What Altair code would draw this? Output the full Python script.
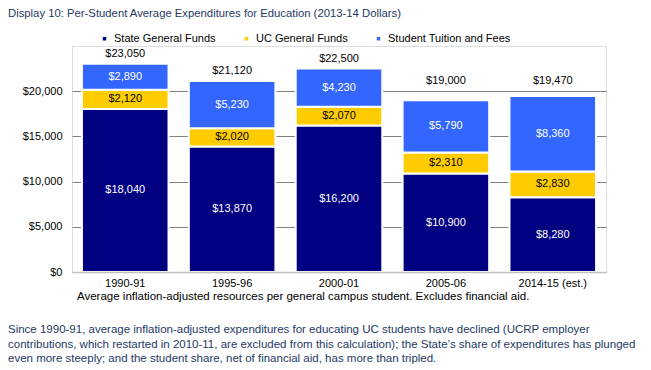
import altair as alt
import pandas as pd

# ---- data ----
categories = ["1990-91", "1995-96", "2000-01", "2005-06", "2014-15 (est.)"]
series_names = ["State General Funds", "UC General Funds", "Student Tuition and Fees"]
state_funds = [18040, 13870, 16200, 10900, 8280]
uc_funds = [2120, 2020, 2070, 2310, 2830]
tuition_fees = [2890, 5230, 4230, 5790, 8360]
totals = [23050, 21120, 22500, 19000, 19470]
series_colors = ["#000080", "#FFCC00", "#3366FF"]
y_tick_values = [0, 5000, 10000, 15000, 20000]

title_text = "Display 10: Per-Student Average Expenditures for Education (2013-14 Dollars)"
footnote_text = "Average inflation-adjusted resources per general campus student.  Excludes financial aid."
paragraph_lines = [
    "Since 1990-91, average inflation-adjusted expenditures for educating UC students have declined (UCRP employer",
    "contributions, which restarted in 2010-11, are excluded from this calculation); the State\u2019s share of expenditures has plunged",
    "even more steeply; and the student share, net of financial aid, has more than tripled.",
]

FONT = "Liberation Sans"
TEXT_BLUE = "#1F3864"

rows = []
for i, cat in enumerate(categories):
    for k, (name, vals) in enumerate(zip(series_names, [state_funds, uc_funds, tuition_fees])):
        rows.append({"category": cat, "series": name, "value": vals[i], "order": k})
df = pd.DataFrame(rows)
tot_df = pd.DataFrame({"category": categories, "total": totals})

x_enc = alt.X("category:N", sort=categories,
              scale=alt.Scale(paddingInner=0.19, paddingOuter=0.093),
              axis=alt.Axis(title=None, labelAngle=0, ticks=False, domain=True,
                            domainColor="#C0C0C0", domainWidth=1.5, labelPadding=5,
                            labelFontSize=11, labelFont=FONT, labelColor="#000000",
                            grid=False, zindex=1))
y_scale = alt.Scale(domain=[0, 25000], nice=False)
y_axis = alt.Axis(title=None, values=y_tick_values, format="$,.0f", ticks=False,
                  domain=False, grid=True, gridColor="#808080", gridWidth=1.2,
                  labelPadding=10, labelFontSize=11, labelFont=FONT, labelColor="#000000")

base = alt.Chart(df).transform_stack(
    stack="value", groupby=["category"], sort=[alt.SortField("order", order="ascending")],
    as_=["y0", "y1"]
).transform_calculate(mid="(datum.y0 + datum.y1) / 2")

bars = base.mark_bar(stroke="white", strokeWidth=2).encode(
    x=x_enc,
    y=alt.Y("y0:Q", scale=y_scale, axis=y_axis),
    y2="y1:Q",
    color=alt.Color("series:N", sort=series_names,
                    scale=alt.Scale(domain=series_names, range=series_colors),
                    legend=alt.Legend(title=None, orient="none", direction="horizontal",
                                      legendX=27, legendY=-13, symbolType="square",
                                      symbolSize=12, symbolStrokeWidth=0, columnPadding=25,
                                      labelFontSize=11, labelFont=FONT, labelColor="#000000",
                                      labelOffset=4, padding=0)),
)

seg_labels = base.mark_text(fontSize=11, font=FONT, baseline="middle").encode(
    x=alt.X("category:N", sort=categories),
    y=alt.Y("mid:Q", scale=y_scale),
    text=alt.Text("value:Q", format="$,.0f"),
    color=alt.condition(alt.datum.series == "UC General Funds",
                        alt.value("#000000"), alt.value("#FFFFFF")),
)

tot_labels = alt.Chart(tot_df).transform_calculate(
    label_y="max(datum.total, 20000)"
).mark_text(fontSize=11, font=FONT, baseline="middle", dy=-10, color="#000000").encode(
    x=alt.X("category:N", sort=categories),
    y=alt.Y("label_y:Q", scale=y_scale),
    text=alt.Text("total:Q", format="$,.0f"),
)

title_mark = alt.Chart(pd.DataFrame({"t": [title_text]})).mark_text(
    align="left", baseline="middle", fontSize=11.3, font=FONT, color=TEXT_BLUE
).encode(x=alt.value(-64), y=alt.value(-32), text="t:N")

foot_mark = alt.Chart(pd.DataFrame({"t": [footnote_text]})).mark_text(
    align="left", baseline="middle", fontSize=11.5, font=FONT, color="#000000"
).encode(x=alt.value(5), y=alt.value(251), text="t:N")

para_df = pd.DataFrame({"t": paragraph_lines, "line": list(range(len(paragraph_lines)))})
para_marks = [
    alt.Chart(para_df).transform_filter(alt.datum.line == i).mark_text(
        align="left", baseline="middle", fontSize=11.5, font=FONT, color=TEXT_BLUE
    ).encode(x=alt.value(-64), y=alt.value(284 + 14.7 * i), text="t:N")
    for i in range(len(paragraph_lines))
]

chart = alt.layer(bars, seg_labels, tot_labels, title_mark, foot_mark, *para_marks).properties(
    width=534, height=226,
    autosize=alt.AutoSizeParams(type="none"),
    padding={"left": 64, "top": 38, "right": 37, "bottom": 97},
).configure_view(strokeWidth=0).configure(background="#FFFFFF")

chart.save("out.html", embed_options={"renderer": "svg", "actions": False})
